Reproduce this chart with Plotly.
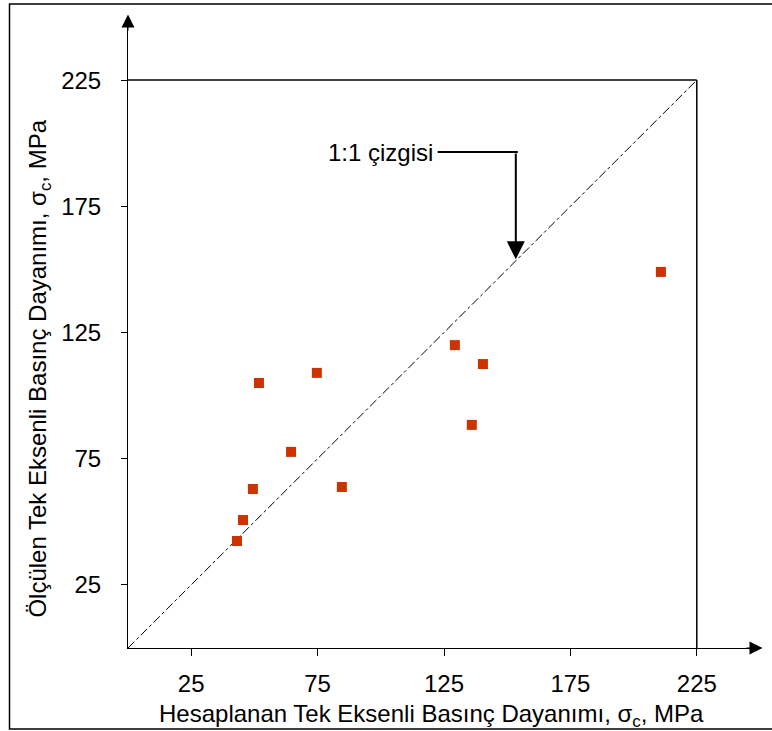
import plotly.graph_objects as go

# Data
calc_x = [43.1, 45.5, 49.4, 51.8, 64.5, 74.7, 84.6, 129.3, 140.4, 136.0, 210.8]
meas_y = [42.4, 50.7, 63.0, 105.0, 77.7, 109.0, 63.8, 120.0, 112.5, 88.4, 149.0]
tick_vals = [25, 75, 125, 175, 225]
tick_text = ["25", "75", "125", "175", "225"]
axis_max = 250
box_max = 225
line_label = "1:1 çizgisi"
x_title = "Hesaplanan Tek Eksenli Basınç Dayanımı, σ<sub>c</sub>, MPa"
y_title = "Ölçülen Tek Eksenli Basınç Dayanımı, σ<sub>c</sub>, MPa"

FONT = "Liberation Sans, Arial, sans-serif"
FS = 24

fig = go.Figure()

# 1:1 line
fig.add_trace(go.Scatter(x=[0, box_max], y=[0, box_max], mode="lines",
                         line=dict(color="black", width=1, dash="dashdot"),
                         hoverinfo="skip", showlegend=False))

# data points
fig.add_trace(go.Scatter(x=calc_x, y=meas_y, mode="markers",
                         marker=dict(symbol="square", size=10, color="#CC3300",
                                     line=dict(width=0)),
                         showlegend=False))

shapes = [
    # frame lines at 225
    dict(type="line", xref="x", yref="y", x0=0, y0=box_max, x1=box_max, y1=box_max,
         line=dict(color="black", width=1.5)),
    dict(type="line", xref="x", yref="y", x0=box_max, y0=0, x1=box_max, y1=box_max,
         line=dict(color="black", width=1.5)),
    # annotation leader horizontal
    dict(type="line", xref="x", yref="y", x0=122.5, y0=196.5, x1=154.2, y1=196.5,
         line=dict(color="black", width=2)),
    # outer border
    dict(type="rect", xref="paper", yref="paper", x0=-0.1875, y0=-0.1284, x1=1.03, y1=1.0206,
         line=dict(color="black", width=1.5)),
]

annotations = [
    dict(x=153.4, y=154, ax=153.4, ay=196.5, xref="x", yref="y", axref="x", ayref="y",
         showarrow=True, arrowhead=2, arrowsize=1.8, arrowwidth=2, arrowcolor="black", text=""),
    dict(x=121.5, y=196.5, xref="x", yref="y", text=line_label, showarrow=False,
         xanchor="right", yanchor="middle", font=dict(family=FONT, size=FS, color="black")),
    # axis arrow heads
    dict(x=axis_max + 1, y=0, ax=axis_max - 6, ay=0, xref="x", yref="y", axref="x", ayref="y",
         showarrow=True, arrowhead=2, arrowsize=2.6, arrowwidth=1, arrowcolor="black", text=""),
    dict(x=0, y=axis_max + 1, ax=0, ay=axis_max - 6, xref="x", yref="y", axref="x", ayref="y",
         showarrow=True, arrowhead=2, arrowsize=2.6, arrowwidth=1, arrowcolor="black", text=""),
    # axis titles
    dict(x=0.480, y=-0.107, xref="paper", yref="paper", text=x_title, showarrow=False,
         xanchor="center", yanchor="middle", font=dict(family=FONT, size=FS, color="black")),
    dict(x=-0.140, y=0.442, xref="paper", yref="paper", text=y_title, showarrow=False,
         textangle=-90, xanchor="center", yanchor="middle",
         font=dict(family=FONT, size=FS, color="black")),
]

fig.update_layout(
    width=772, height=731,
    margin=dict(l=128, r=12, t=17, b=83),
    paper_bgcolor="white", plot_bgcolor="white",
    font=dict(family=FONT, size=FS, color="black"),
    shapes=shapes, annotations=annotations,
    showlegend=False,
)
fig.update_xaxes(range=[0, axis_max], showgrid=False, zeroline=False,
                 showline=True, linecolor="black", linewidth=1,
                 ticks="outside", ticklen=7, tickcolor="black", tickwidth=1,
                 tickvals=tick_vals, ticktext=tick_text, ticklabelstandoff=7,
                 automargin=False)
fig.update_yaxes(range=[0, axis_max], showgrid=False, zeroline=False,
                 showline=True, linecolor="black", linewidth=1,
                 ticks="outside", ticklen=6, tickcolor="black", tickwidth=1,
                 tickvals=tick_vals, ticktext=tick_text, ticklabelstandoff=15,
                 automargin=False)

fig.write_html("out.html", config={"displayModeBar": False},
               post_script="document.body.style.margin='0';")
